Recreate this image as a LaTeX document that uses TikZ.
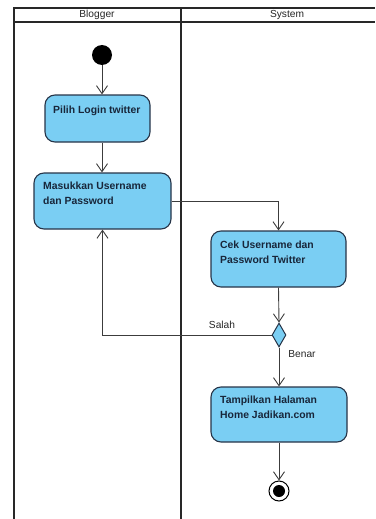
\documentclass[tikz,border=0pt]{standalone}
\usepackage{fontspec}
\setmainfont{Liberation Sans}
\usetikzlibrary{arrows.meta,shapes.geometric}
\definecolor{actfill}{RGB}{122,206,243}
\definecolor{actdraw}{RGB}{38,52,72}
\definecolor{acttext}{RGB}{24,38,58}
\definecolor{lanecol}{RGB}{40,40,40}
\definecolor{flowcol}{RGB}{60,60,60}
\tikzset{
  lane/.style={draw=lanecol, line width=1.8pt},
  act/.style={draw=actdraw, fill=actfill, line width=1.1pt, rounded corners=10pt, inner sep=0pt},
  acttxt/.style={text=acttext, font=\fontsize{10.4}{15}\selectfont\bfseries, align=left, inner sep=0pt, anchor=north west},
  hdr/.style={font=\fontsize{10.2}{11}\selectfont, text=black!85, inner sep=0pt},
  lbl/.style={font=\fontsize{10.2}{11}\selectfont, text=black!85, inner sep=0pt},
  flow/.style={draw=flowcol, line width=0.9pt, -{Straight Barb[length=8pt,width=11pt,line width=0.9pt]}},
  startnode/.style={circle, fill=black, minimum size=20pt, inner sep=0pt},
  endouter/.style={circle, draw=black, line width=1pt, fill=white, minimum size=20pt, inner sep=0pt},
  endinner/.style={circle, fill=black, minimum size=12pt, inner sep=0pt},
  decision/.style={diamond, draw=actdraw, fill=actfill, line width=1pt, minimum width=14pt, minimum height=24pt, inner sep=0pt}
}
\begin{document}
\begin{tikzpicture}[x=1pt,y=-1pt]
\useasboundingbox (0,0) rectangle (375,519);
% swimlanes
\draw[lane] (14,519) -- (14,8) -- (375,8);
\draw[lane] (14,22) -- (375,22);
\draw[lane] (181,8) -- (181,519);
\node[hdr] (hb) at (97,15) {Blogger};
\node[hdr] (hs) at (287,15) {System};
% nodes
\node[startnode] (start) at (102,55) {};
\node[act, minimum width=105pt, minimum height=47pt] (b1) at (97.5,118.5) {};
\node[acttxt] (t1) at (53,105.5) {Pilih Login twitter};
\node[act, minimum width=137pt, minimum height=56pt] (b2) at (102.5,201) {};
\node[acttxt] (t2) at (43,182) {Masukkan Username\\dan Password};
\node[act, minimum width=135pt, minimum height=56pt] (b3) at (278.5,259) {};
\node[acttxt] (t3) at (220,240.5) {Cek Username dan\\Password Twitter};
\node[decision] (d) at (279,335) {};
\node[act, minimum width=136pt, minimum height=55pt] (b4) at (279,414.5) {};
\node[acttxt] (t4) at (220,395.5) {Tampilkan Halaman\\Home Jadikan.com};
\node[endouter] (endo) at (279,491) {};
\node[endinner] (endi) at (endo) {};
\node[lbl] (salah) at (222,325) {Salah};
\node[lbl] (benar) at (302,354) {Benar};
% flows
\draw[flow] (start) -- (start |- b1.north);
\draw[flow] (start |- b1.south) -- (start |- b2.north);
\draw[flow] (b2.east) -| (b3.north);
\draw[flow] (b3.south) -- (d.north);
\draw[flow] (d.west) -| (b2.south);
\draw[flow] (d.south) -- (b4.north);
\draw[flow] (b4.south) -- (endo.north);
\end{tikzpicture}
\end{document}
